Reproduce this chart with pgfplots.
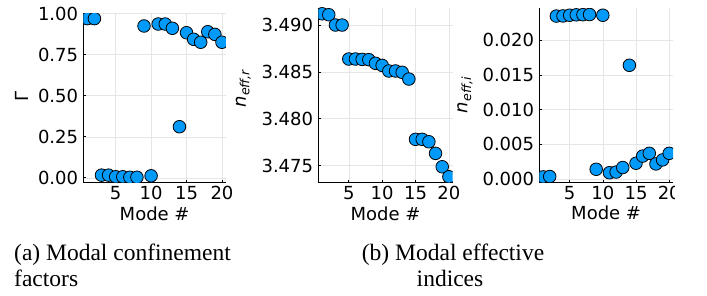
\documentclass[border=0pt]{standalone}
\usepackage{fontspec}
\setmainfont{DejaVu Sans}
\newfontfamily\capfont{Liberation Serif}
\usepackage{pgfplots}
\pgfplotsset{compat=1.18}
\definecolor{jblue}{RGB}{0,154,250}

\pgfplotsset{
  myax/.style={
    scale only axis,
    xmin=0.43, xmax=20.57,
    xtick={5,10,15,20},
    axis x line*=bottom, axis y line*=left,
    axis line style={-, line width=0.9pt},
    grid=major, major grid style={black!10, line width=0.5pt},
    tick align=inside, major tick length=2.5pt,
    tick style={black, line width=0.6pt},
    font=\fontsize{18}{20}\selectfont,
    ticklabel style={font=\fontsize{18}{20}\selectfont},
    /pgf/number format/assume math mode=true,
    xticklabel style={anchor=north, inner sep=0pt, yshift=-4pt},
    yticklabel style={anchor=east, inner sep=0pt, xshift=-5pt},
    scaled y ticks=false,
    clip marker paths=true,
    xlabel={Mode \#},
  },
  mypts/.style={only marks, mark=*, mark size=6.3pt,
    mark options={fill=jblue, draw=black, line width=0.8pt}},
}

\begin{document}
\begin{tikzpicture}
\path[use as bounding box] (0pt,0pt) rectangle (707pt,295pt);

% (a) confinement factor
\begin{axis}[myax,
  at={(83.3pt,112.8pt)}, anchor=south west,
  width=142.7pt, height=169pt,
  ymin=-0.027, ymax=1.003,
  ytick={0,0.25,0.5,0.75,1},
  yticklabel style={/pgf/number format/.cd, fixed, fixed zerofill, precision=2},
  ylabel={Γ},
  ylabel style={at={(axis description cs:-0.432,0.506)}, anchor=center},
  xlabel style={at={(axis description cs:0.5,-0.184)}, anchor=center},
]
\addplot[mypts] coordinates {
(1,0.970) (2,0.970) (3,0.016) (4,0.016) (5,0.006) (6,0.006) (7,0.003)
(8,0.003) (9,0.925) (10,0.012) (11,0.937) (12,0.937) (13,0.911)
(14,0.311) (15,0.884) (16,0.844) (17,0.826) (18,0.890) (19,0.874) (20,0.826)
};
\end{axis}

% (b) real part
\begin{axis}[myax,
  at={(318.3pt,112.7pt)}, anchor=south west,
  width=134.4pt, height=174.3pt,
  ymin=3.4732, ymax=3.49182,
  ytick={3.475,3.48,3.485,3.49},
  yticklabel style={/pgf/number format/.cd, fixed, fixed zerofill, precision=3},
  ylabel={\textit{n}\textsubscript{\textit{eff,r}}},
  ylabel style={at={(axis description cs:-0.558,0.541)}, anchor=center},
  xlabel style={at={(axis description cs:0.5,-0.178)}, anchor=center},
]
\addplot[mypts] coordinates {
(1,3.49120) (2,3.49110) (3,3.49000) (4,3.49000) (5,3.48637) (6,3.48637)
(7,3.48633) (8,3.48630) (9,3.48591) (10,3.48569) (11,3.48509) (12,3.48509)
(13,3.48495) (14,3.48423) (15,3.47779) (16,3.47779) (17,3.47753)
(18,3.47629) (19,3.47486) (20,3.47379)
};
\end{axis}

% (b) imaginary part
\begin{axis}[myax,
  at={(539.3pt,112.7pt)}, anchor=south west,
  width=133.7pt, height=174pt,
  ymin=-0.00048, ymax=0.02462,
  ytick={0,0.005,0.01,0.015,0.02},
  yticklabel style={/pgf/number format/.cd, fixed, fixed zerofill, precision=3},
  ylabel={\textit{n}\textsubscript{\textit{eff,i}}},
  ylabel style={at={(axis description cs:-0.556,0.502)}, anchor=center},
  xlabel style={at={(axis description cs:0.5,-0.178)}, anchor=center},
]
\addplot[mypts] coordinates {
(1,0.00030) (2,0.00035) (3,0.02350) (4,0.02352) (5,0.02362) (6,0.02368)
(7,0.02370) (8,0.02372) (9,0.00140) (10,0.02362) (11,0.00090) (12,0.00100)
(13,0.00165) (14,0.01640) (15,0.00227) (16,0.00330) (17,0.00370)
(18,0.00217) (19,0.00275) (20,0.00370)
};
\end{axis}

\fill[white] (675pt,90pt) rectangle (707pt,112pt);

\begin{scope}[every node/.style={inner sep=0pt, font=\capfont\fontsize{23.5}{26}\selectfont}]
\node[anchor=base west] at (14pt,34.3pt) {(a) Modal confinement};
\node[anchor=base west] at (14pt,8.3pt) {factors};
\node[anchor=base west] at (361.7pt,34.3pt) {(b) Modal effective};
\node[anchor=base] at (450pt,8.3pt) {indices};
\end{scope}
\end{tikzpicture}
\end{document}
